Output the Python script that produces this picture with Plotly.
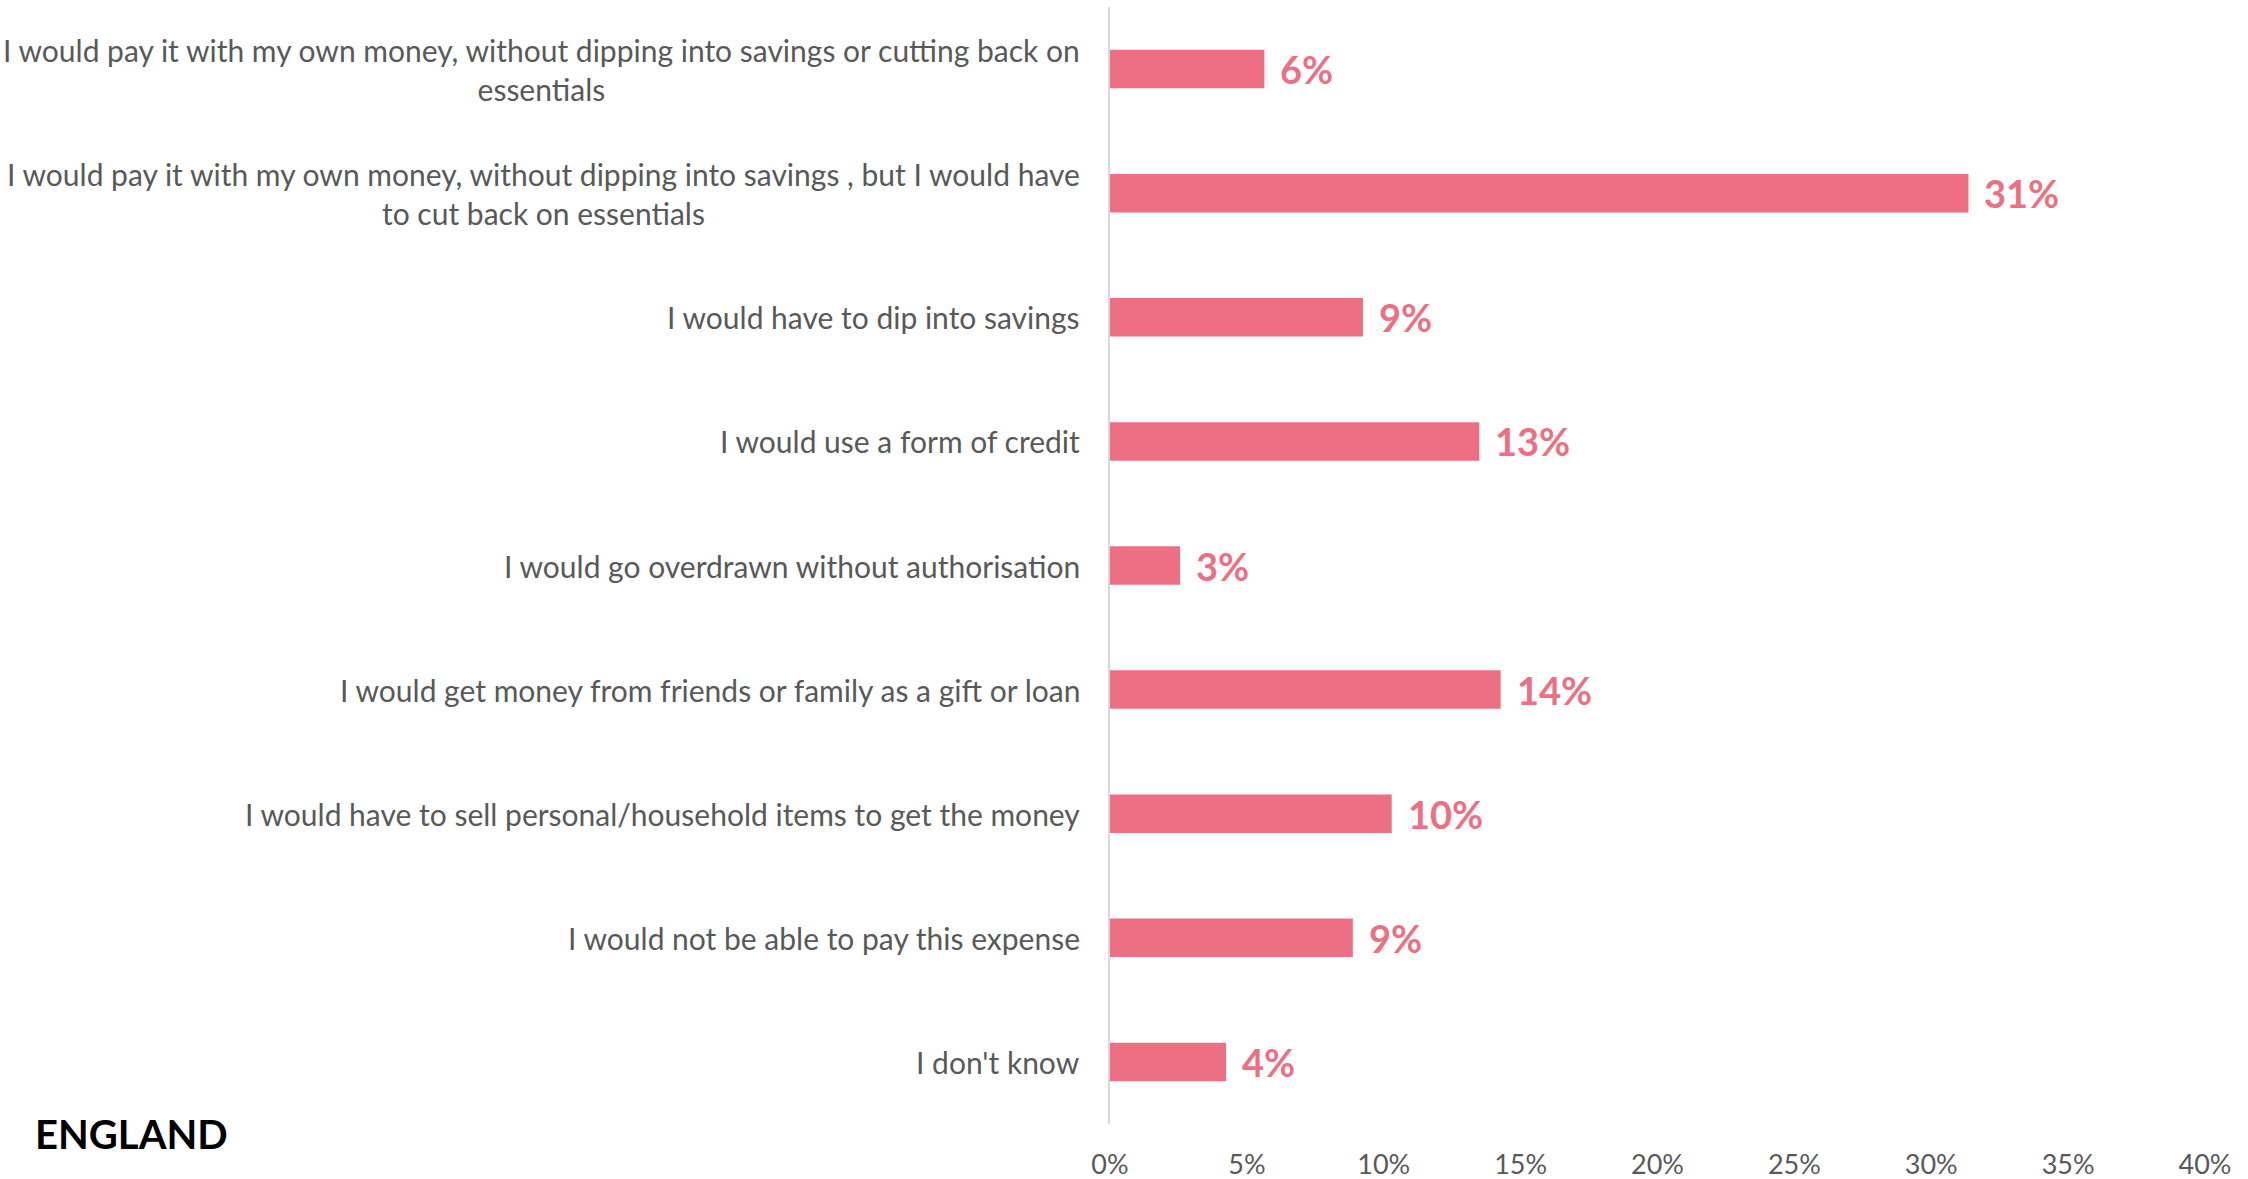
import plotly.graph_objects as go

# Survey responses: how an unexpected expense would be covered (England)
categories = [
    "I would pay it with my own money, without dipping into savings or cutting back on<br>essentials",
    "I would pay it with my own money, without dipping into savings , but I would have<br>to cut back on essentials",
    "I would have to dip into savings",
    "I would use a form of credit",
    "I would go overdrawn without authorisation",
    "I would get money from friends or family as a gift or loan",
    "I would have to sell personal/household items to get the money",
    "I would not be able to pay this expense",
    "I don't know",
]
shares = [0.0564, 0.3136, 0.0924, 0.1349, 0.0256, 0.1427, 0.1029, 0.0887, 0.0424]

tick_vals = [0, 0.05, 0.10, 0.15, 0.20, 0.25, 0.30, 0.35, 0.40]
tick_text = ["0%", "5%", "10%", "15%", "20%", "25%", "30%", "35%", "40%"]

BAR = "#EC6F83"
GREY = "#595959"
FONT = "Lato, 'Open Sans', sans-serif"

W, H = 2248, 1179
L, R, T, B = 1110, 43, 7, 55
plot_w = W - L - R
plot_h = H - T - B

fig = go.Figure()
fig.add_trace(go.Bar(
    x=shares,
    y=categories,
    orientation="h",
    marker=dict(color=BAR, line=dict(width=0)),
    width=0.31,
    hoverinfo="skip",
))

# category labels: right-aligned block, lines centred within it
for cat in categories:
    fig.add_annotation(
        x=0, xref="paper", y=cat, yref="y",
        text=cat, showarrow=False,
        xanchor="right", yanchor="middle", align="center",
        xshift=-28,
        font=dict(family=FONT, size=30, color=GREY),
    )

# value labels at the end of each bar
for cat, v in zip(categories, shares):
    fig.add_annotation(
        x=v, xref="x", y=cat, yref="y",
        text=f"<b>{v:.0%}</b>", showarrow=False,
        xanchor="left", yanchor="middle",
        xshift=14,
        font=dict(family=FONT, size=38, color=BAR),
    )

# region caption in the bottom-left corner
fig.add_annotation(
    x=(33 - L) / plot_w, xref="paper",
    y=-(1134 - (T + plot_h)) / plot_h, yref="paper",
    text="<b>ENGLAND</b>", showarrow=False,
    xanchor="left", yanchor="middle",
    font=dict(family=FONT, size=40, color="#000000"),
)

fig.update_layout(
    width=W,
    height=H,
    margin=dict(l=L, r=R, t=T, b=B, autoexpand=False),
    paper_bgcolor="white",
    plot_bgcolor="white",
    showlegend=False,
    xaxis=dict(
        range=[0, 0.40],
        tickvals=tick_vals,
        ticktext=tick_text,
        showgrid=False,
        zeroline=False,
        showline=False,
        ticks="",
        ticklabelstandoff=22,
        tickfont=dict(family=FONT, size=27, color=GREY),
    ),
    yaxis=dict(
        autorange="reversed",
        showticklabels=False,
        showgrid=False,
        zeroline=False,
        showline=True,
        linecolor="#D9D9D9",
        linewidth=2,
        ticks="",
    ),
)

fig.write_html("out.html")
